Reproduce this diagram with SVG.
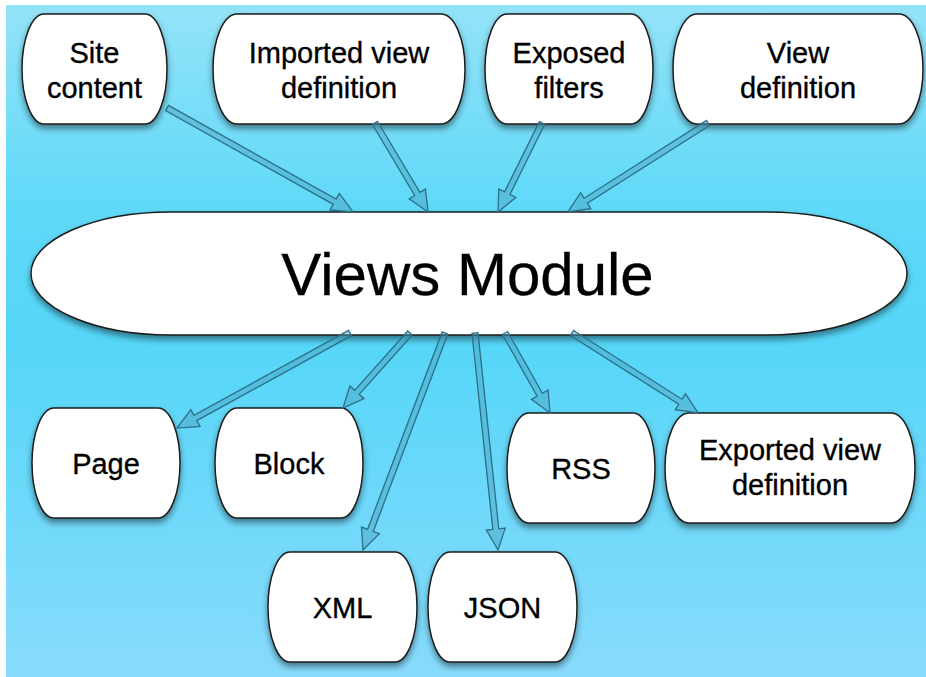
<svg xmlns="http://www.w3.org/2000/svg" width="926" height="677" viewBox="0 0 926 677">
<defs>
<linearGradient id="bg" x1="0" y1="0" x2="0" y2="1">
<stop offset="0" stop-color="#94e3f8"/>
<stop offset="0.3" stop-color="#5fd9f8"/>
<stop offset="0.5" stop-color="#55d6f8"/>
<stop offset="1" stop-color="#88dbfc"/>
</linearGradient>
<filter id="sh" x="-10%" y="-10%" width="120%" height="130%">
<feDropShadow dx="0" dy="4" stdDeviation="3" flood-color="#000" flood-opacity="0.45"/>
</filter>
</defs>
<style>
.node{fill:#fff;stroke:#1e1e1e;stroke-width:1.5;filter:url(#sh)}
.t{font-family:"Liberation Sans",Arial,Helvetica,sans-serif;font-size:29px;fill:#000;stroke:#000;stroke-width:0.35;text-anchor:middle}
.big{font-size:60px;stroke-width:0.3}
.arr{fill:rgba(70,160,190,0.45);stroke:#2e6e86;stroke-width:1.3;stroke-linejoin:miter}
</style>
<rect width="926" height="677" fill="#fff"/>
<rect x="6" y="5" width="920" height="672" fill="url(#bg)"/>

<g id="site-content"><rect class="node" x="22" y="14" width="145" height="110" rx="22" ry="55"/><text class="t" x="94.5" y="63">Site</text><text class="t" x="94.5" y="98">content</text></g>
<g id="imported-view-definition"><rect class="node" x="213" y="14" width="252" height="110" rx="24" ry="55"/><text class="t" x="339" y="63">Imported view</text><text class="t" x="339" y="98">definition</text></g>
<g id="exposed-filters"><rect class="node" x="485" y="14" width="168" height="110" rx="22" ry="55"/><text class="t" x="569" y="63">Exposed</text><text class="t" x="569" y="98">filters</text></g>
<g id="view-definition"><rect class="node" x="673" y="14" width="250" height="110" rx="24" ry="55"/><text class="t" x="798" y="63">View</text><text class="t" x="798" y="98">definition</text></g>

<g id="views-module"><rect class="node" x="31" y="212" width="876" height="123" rx="140" ry="61.5"/><text class="t big" x="467.5" y="295">Views Module</text></g>

<g id="page"><rect class="node" x="32" y="408" width="148" height="110" rx="22" ry="55"/><text class="t" x="106" y="474">Page</text></g>
<g id="block"><rect class="node" x="215" y="408" width="148" height="110" rx="22" ry="55"/><text class="t" x="289" y="474">Block</text></g>
<g id="xml"><rect class="node" x="268" y="552" width="149" height="110" rx="22" ry="55"/><text class="t" x="342.5" y="618">XML</text></g>
<g id="json"><rect class="node" x="428" y="552" width="149" height="110" rx="22" ry="55"/><text class="t" x="502.5" y="618">JSON</text></g>
<g id="rss"><rect class="node" x="507" y="413" width="148" height="110" rx="22" ry="55"/><text class="t" x="581" y="479">RSS</text></g>
<g id="exported-view-definition"><rect class="node" x="665" y="413" width="250" height="110" rx="24" ry="55"/><text class="t" x="790" y="460">Exported view</text><text class="t" x="790" y="495">definition</text></g>

<g id="connectors">
<path class="arr" transform="translate(167,108) rotate(29.2)" d="M0,-3 H192.1 V-9.5 L213.1,0 L192.1,9.5 V3 H0 Z"/>
<path class="arr" transform="translate(375,123) rotate(59.2)" d="M0,-3 H82.6 V-9.5 L103.6,0 L82.6,9.5 V3 H0 Z"/>
<path class="arr" transform="translate(542,123) rotate(116.3)" d="M0,-3 H78.3 V-9.5 L99.3,0 L78.3,9.5 V3 H0 Z"/>
<path class="arr" transform="translate(708,123) rotate(147.55)" d="M0,-3 H144.9 V-9.5 L165.9,0 L144.9,9.5 V3 H0 Z"/>
<path class="arr" transform="translate(350,333) rotate(151.2)" d="M0,-3 H176.4 V-9.5 L197.4,0 L176.4,9.5 V3 H0 Z"/>
<path class="arr" transform="translate(410,333) rotate(131.8)" d="M0,-3 H79.6 V-9.5 L100.6,0 L79.6,9.5 V3 H0 Z"/>
<path class="arr" transform="translate(445,333) rotate(110.7)" d="M0,-3 H211 V-9.5 L232,0 L211,9.5 V3 H0 Z"/>
<path class="arr" transform="translate(475,333) rotate(83.95)" d="M0,-3 H197.2 V-9.5 L218.2,0 L197.2,9.5 V3 H0 Z"/>
<path class="arr" transform="translate(505,333) rotate(60.6)" d="M0,-3 H70.8 V-9.5 L91.8,0 L70.8,9.5 V3 H0 Z"/>
<path class="arr" transform="translate(572,333) rotate(32.4)" d="M0,-3 H128.3 V-9.5 L149.3,0 L128.3,9.5 V3 H0 Z"/>
</g>
</svg>
